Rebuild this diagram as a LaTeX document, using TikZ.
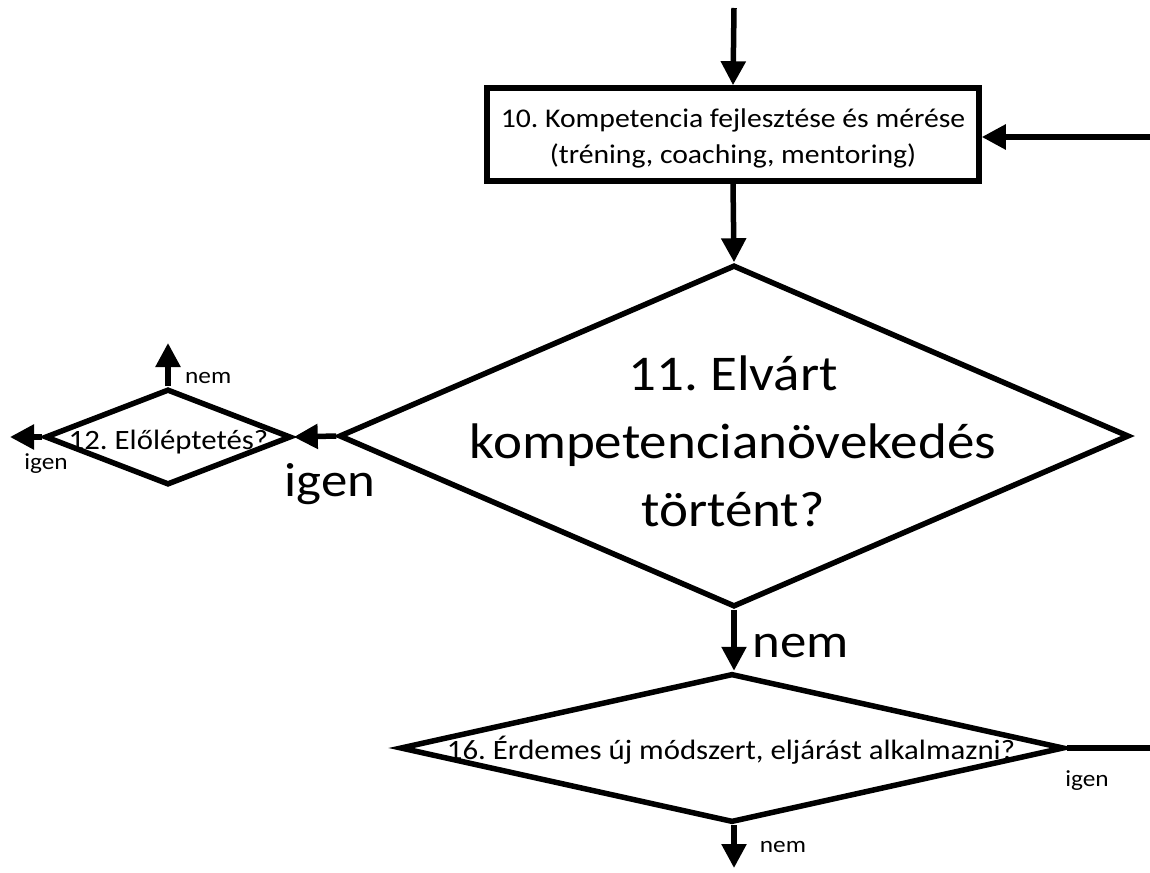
\documentclass[tikz,border=0pt]{standalone}
\usepackage{fontspec}
\setmainfont[FakeStretch=1.1]{Carlito}
\usetikzlibrary{shapes.geometric,arrows.meta}
\begin{document}
\frenchspacing
\begin{tikzpicture}[x=1pt,y=-1pt,
  every node/.style={inner sep=0pt},
  line/.style={line width=5.5pt},
  arr/.style={line, -{Triangle[length=24pt,width=24pt]}},
  procbox/.style={draw, line width=5.5pt, minimum width=492pt, minimum height=93pt},
  boxtxt/.style={align=center, font=\fontsize{27}{36}\selectfont},
  decision/.style={draw, diamond, line width=5.5pt, inner sep=0pt, aspect=1},
  bigtxt/.style={align=center, font=\fontsize{50}{68}\selectfont},
  midtxt/.style={anchor=base, font=\fontsize{28}{32}\selectfont},
  smalllbl/.style={anchor=base, font=\fontsize{23}{26}\selectfont},
  biglbl/.style={anchor=base, font=\fontsize{48}{54}\selectfont}]
\useasboundingbox (0,0) rectangle (1150,872);

% process box
\node[procbox] (box) at (733,134.5) {};
\node[boxtxt] (tbox) at (733,138) {10. Kompetencia fejlesztése és mérése\\(tréning, coaching, mentoring)};

% decisions
\node[decision, minimum width=790pt, minimum height=342pt] (d11) at (734,436) {};
\node[bigtxt] (t11) at (733,441) {11. Elvárt\\kompetencianövekedés\\történt?};

\node[decision, minimum width=246pt, minimum height=96pt] (d12) at (168,437) {};
\node[midtxt] (t12) at (168.5,449) {12. Előléptetés?};

\node[decision, minimum width=664pt, minimum height=149pt] (d16) at (732,748) {};
\node[midtxt] (t16) at (731,759) {16. Érdemes új módszert, eljárást alkalmazni?};

% loose ends
\coordinate (in) at (734,8);
\coordinate (rin) at (1150,137);
\coordinate (lout) at (10,437);
\coordinate (uout) at (168,343);
\coordinate (rout) at (1150,748);
\coordinate (dout) at (734,868);

% connectors
\draw[arr] (in) -- (box.north);
\draw[arr] (rin) -- (box.east |- rin);
\draw[arr] (box.south) -- (d11.north);
\draw[arr] (d11.west) -- (d12.east);
\draw[arr] (d12.west) -- (lout);
\draw[arr] (d12.north) -- (uout);
\draw[arr] (d11.south) -- (d11.south |- d16.north);
\draw[line] (d16.east) -- (rout);
\draw[arr] (d16.south -| d11.south) -- (dout);

% branch labels
\node[smalllbl, anchor=base west] (l12n) at (185,383) {nem};
\node[smalllbl] (l12i) at (46,469) {igen};
\node[biglbl] (l11i) at (330,496) {igen};
\node[biglbl] (l11n) at (801,657) {nem};
\node[smalllbl] (l16i) at (1087,786) {igen};
\node[smalllbl] (l16n) at (783,852) {nem};
\end{tikzpicture}
\end{document}
